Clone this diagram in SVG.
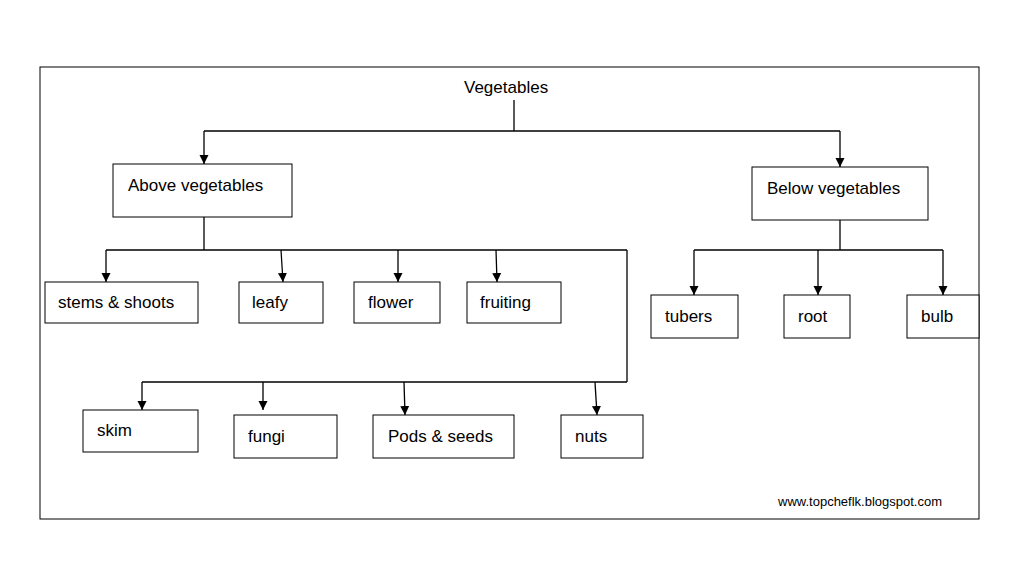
<svg xmlns="http://www.w3.org/2000/svg" width="1022" height="585" viewBox="0 0 1022 585">
<style>
rect{fill:#fff;stroke:#000;stroke-width:1}
.c line{stroke:#000;stroke-width:1.3}
.a{marker-end:url(#ar)}
text{font-family:"Liberation Sans",Arial,sans-serif;font-size:17px;fill:#000}
</style>
<defs><marker id="ar" viewBox="0 0 10 10" refX="10" refY="5" markerWidth="9" markerHeight="11" markerUnits="userSpaceOnUse" orient="auto"><path d="M0,0L10,5L0,10z" fill="#000"/></marker></defs>
<rect width="1022" height="585" style="stroke:none"/>
<rect x="40" y="67" width="939" height="452"/>
<g class="c">
<line x1="514" y1="100" x2="514" y2="131"/>
<line x1="204" y1="131" x2="840" y2="131"/>
<line class="a" x1="204" y1="131" x2="204" y2="164"/>
<line class="a" x1="840" y1="131" x2="840" y2="167"/>
<line x1="204" y1="217" x2="204" y2="250"/>
<line x1="106" y1="250" x2="627" y2="250"/>
<line x1="627" y1="250" x2="627" y2="382"/>
<line x1="142" y1="382" x2="627" y2="382"/>
<line class="a" x1="106" y1="250" x2="106" y2="282"/>
<line class="a" x1="281" y1="250" x2="283" y2="282"/>
<line class="a" x1="398" y1="250" x2="398" y2="282"/>
<line class="a" x1="496" y1="250" x2="497" y2="282"/>
<line class="a" x1="142" y1="382" x2="142" y2="410"/>
<line class="a" x1="263" y1="382" x2="263" y2="410"/>
<line class="a" x1="404" y1="382" x2="405" y2="415"/>
<line class="a" x1="595" y1="382" x2="597" y2="415"/>
<line x1="840" y1="220" x2="840" y2="250"/>
<line x1="694" y1="250" x2="943" y2="250"/>
<line class="a" x1="694" y1="250" x2="694" y2="295"/>
<line class="a" x1="818" y1="250" x2="818" y2="295"/>
<line class="a" x1="943" y1="250" x2="943" y2="295"/>
</g>
<text x="464" y="93">Vegetables</text>
<g id="above"><rect x="113" y="164" width="179" height="53"/><text x="128" y="191">Above vegetables</text></g>
<g id="below"><rect x="752" y="167" width="176" height="53"/><text x="767" y="194">Below vegetables</text></g>
<g id="stems"><rect x="45" y="282" width="153" height="41"/><text x="58" y="308">stems &amp; shoots</text></g>
<g id="leafy"><rect x="239" y="282" width="84" height="41"/><text x="252" y="308">leafy</text></g>
<g id="flower"><rect x="354" y="282" width="86" height="41"/><text x="368" y="308">flower</text></g>
<g id="fruiting"><rect x="467" y="282" width="94" height="41"/><text x="480" y="308">fruiting</text></g>
<g id="skim"><rect x="83" y="410" width="115" height="42"/><text x="97" y="436">skim</text></g>
<g id="fungi"><rect x="234" y="415" width="103" height="43"/><text x="248" y="442">fungi</text></g>
<g id="pods"><rect x="373" y="415" width="141" height="43"/><text x="388" y="442">Pods &amp; seeds</text></g>
<g id="nuts"><rect x="561" y="415" width="82" height="43"/><text x="575" y="442">nuts</text></g>
<g id="tubers"><rect x="651" y="295" width="87" height="43"/><text x="665" y="322">tubers</text></g>
<g id="root"><rect x="784" y="295" width="66" height="43"/><text x="798" y="322">root</text></g>
<g id="bulb"><rect x="907" y="295" width="72" height="43"/><text x="921" y="322">bulb</text></g>
<text x="778" y="506" style="font-size:13px">www.topcheflk.blogspot.com</text>
</svg>
